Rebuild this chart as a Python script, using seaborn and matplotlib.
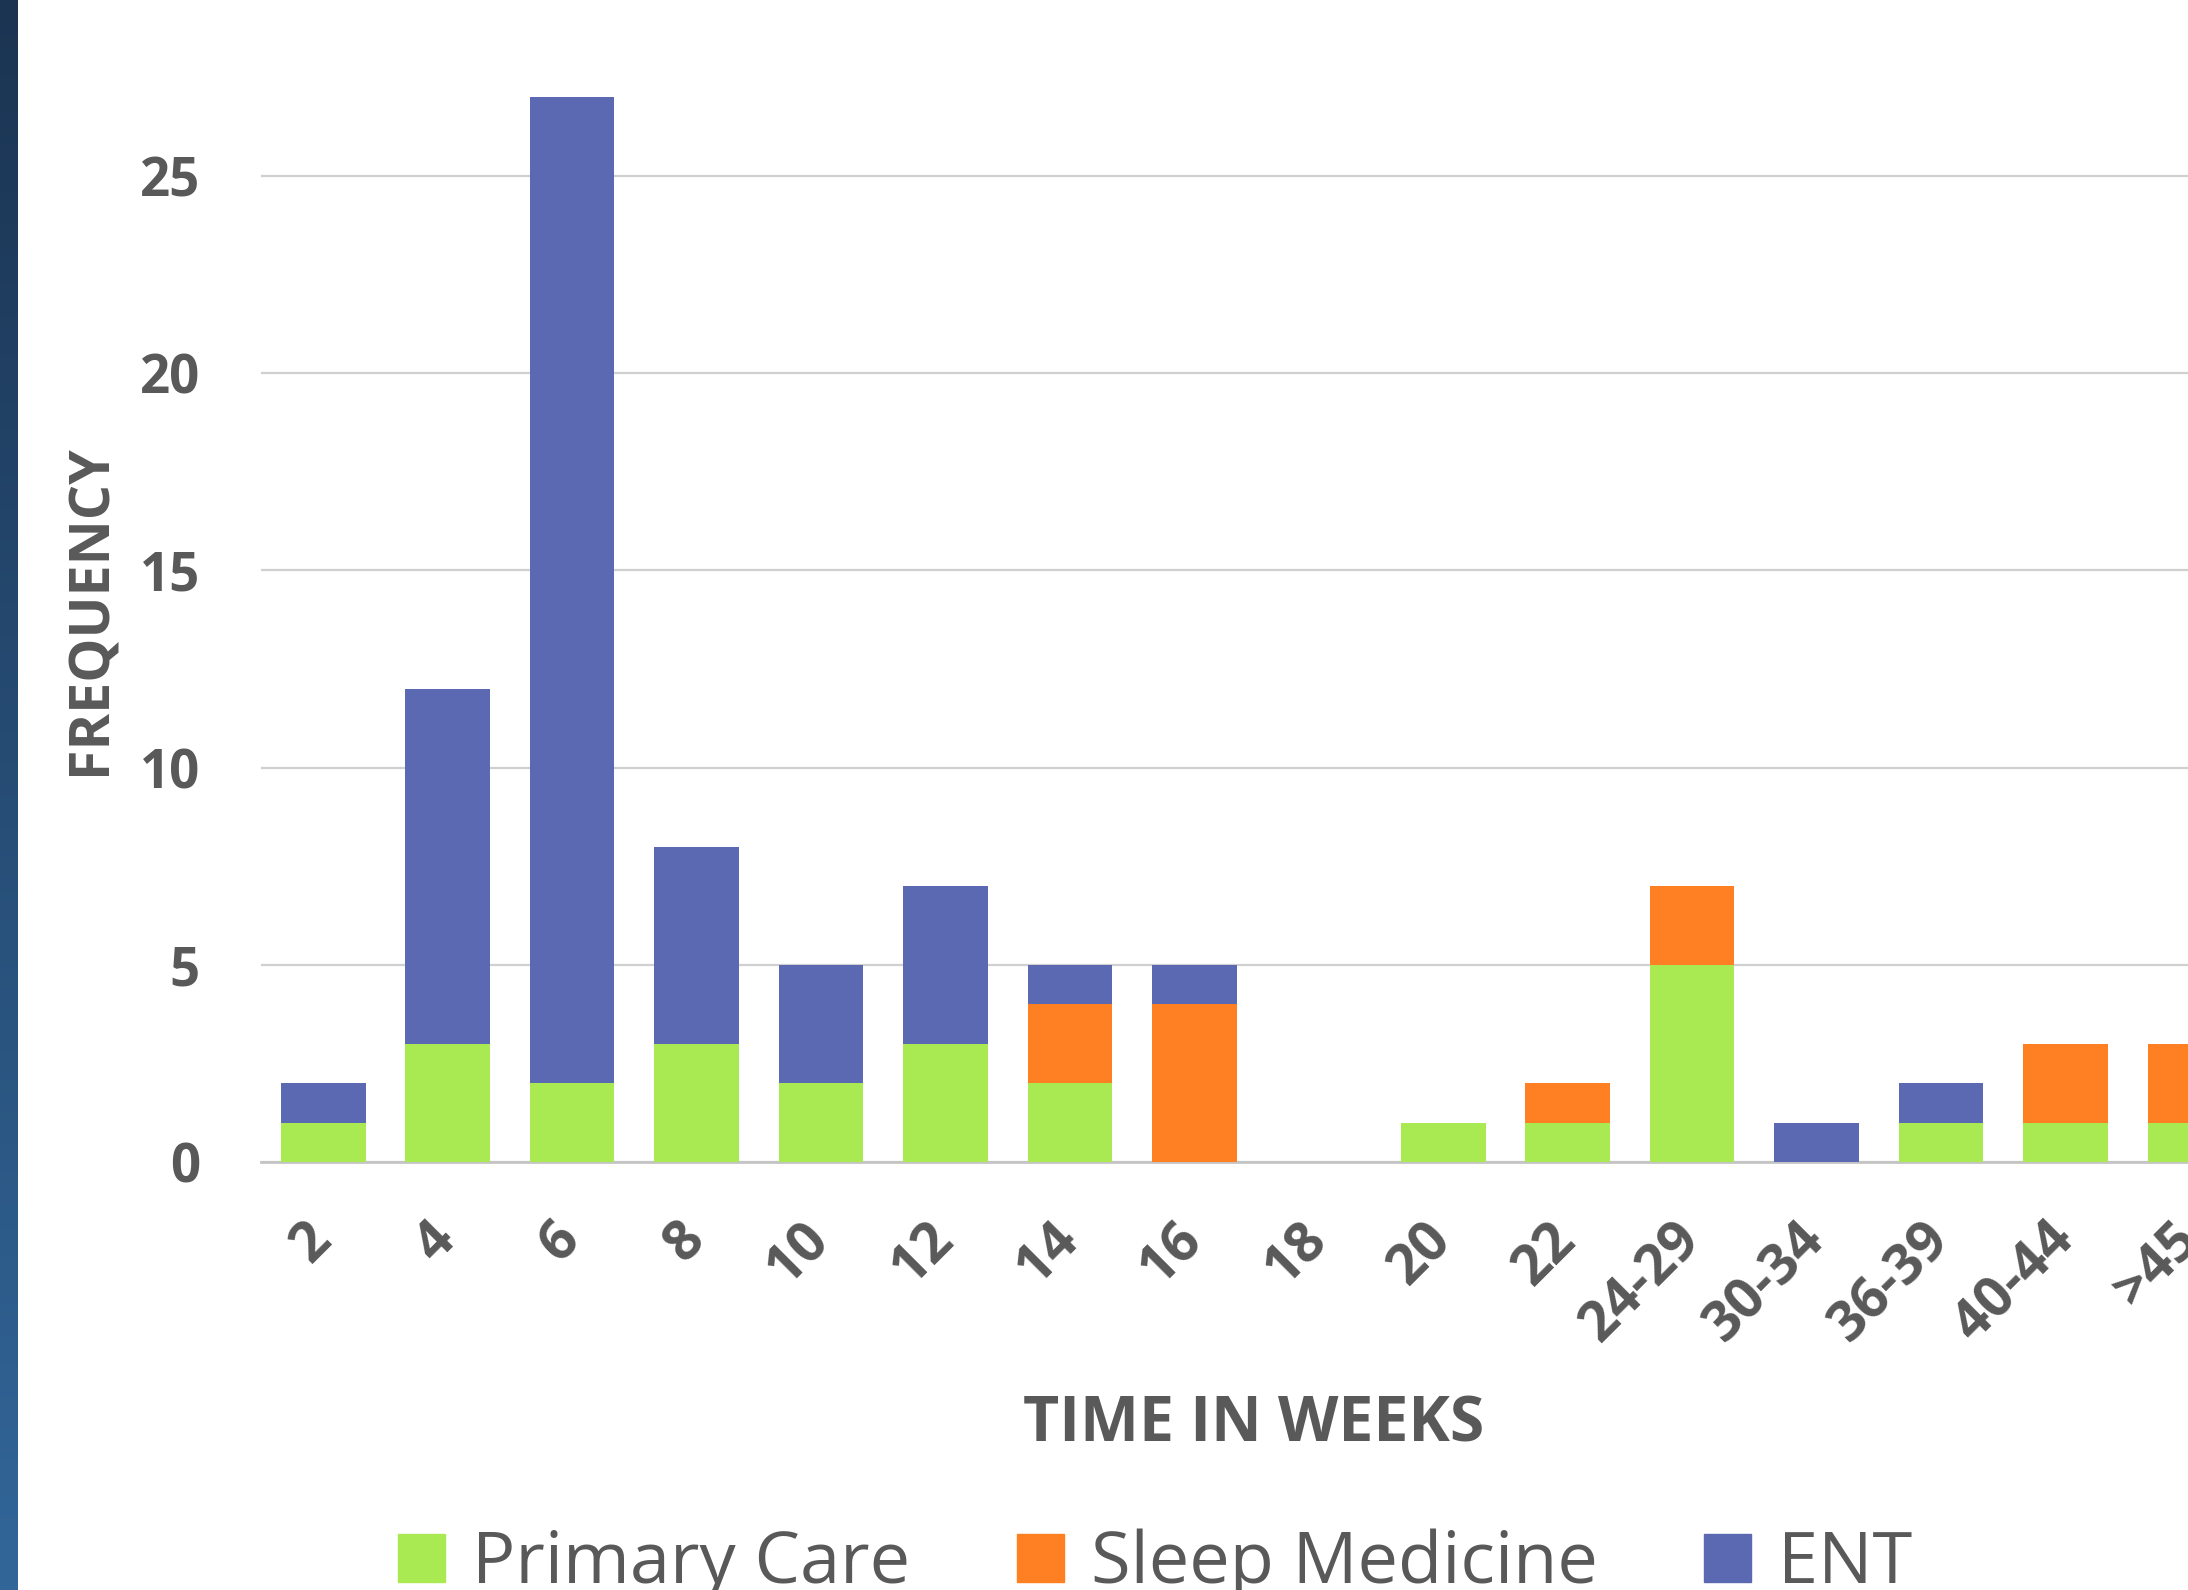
import numpy as np
import pandas as pd
import matplotlib
matplotlib.use("Agg")
import matplotlib.pyplot as plt
import seaborn as sns

# data
weeks = ["2", "4", "6", "8", "10", "12", "14", "16", "18", "20", "22",
         "24-29", "30-34", "36-39", "40-44", ">45"]
primary_care = [1, 3, 2, 3, 2, 3, 2, 0, 0, 1, 1, 5, 0, 1, 1, 1]
sleep_medicine = [0, 0, 0, 0, 0, 0, 2, 4, 0, 0, 1, 2, 0, 0, 2, 2]
ent = [1, 9, 25, 5, 3, 4, 1, 1, 0, 0, 0, 0, 1, 1, 0, 0]

green = "#A9EA52"
orange = "#FE8022"
blue = "#5A69B2"
text_gray = "#595959"

df = pd.DataFrame({"week": weeks, "pc": primary_care,
                   "sm": sleep_medicine, "ent": ent})
# cumulative heights for stacking (draw tallest first)
df["lvl_pc"] = df["pc"]
df["lvl_sm"] = df["pc"] + df["sm"]
df["lvl_ent"] = df["pc"] + df["sm"] + df["ent"]

sns.set_theme(style="white")
plt.rcParams["font.family"] = ["Open Sans", "DejaVu Sans"]

fig = plt.figure(figsize=(21.88, 15.9), dpi=100)
ax = fig.add_axes([0.1193, 0.2692, 0.910, 0.744])

for col, color in [("lvl_ent", blue), ("lvl_sm", orange), ("lvl_pc", green)]:
    sns.barplot(data=df, x="week", y=col, color=color, width=0.68,
                saturation=1, ax=ax, zorder=3, linewidth=0)

ax.set_xlim(-0.5, len(weeks) - 0.5)
ax.set_ylim(0, 30)
ax.set_yticks([0, 5, 10, 15, 20, 25])
ax.yaxis.grid(True, color="#d0d0d0", linewidth=1.6, zorder=0)
for s in ["top", "right", "left"]:
    ax.spines[s].set_visible(False)
ax.spines["bottom"].set_color("#c4c4c4")
ax.spines["bottom"].set_linewidth(2)
ax.tick_params(axis="both", length=0)
ax.tick_params(axis="y", pad=44, labelsize=38, labelcolor=text_gray)
ax.tick_params(axis="x", pad=50, labelsize=40, labelcolor=text_gray)
for lab in ax.get_yticklabels():
    lab.set_fontweight("bold")
for lab in ax.get_xticklabels():
    lab.set_fontweight("bold")
    lab.set_rotation(45)
    lab.set_ha("right")
    lab.set_va("center")
    lab.set_rotation_mode("anchor")

ax.set_ylabel("FREQUENCY", fontsize=40, fontweight="bold", color=text_gray)
ax.yaxis.set_label_coords(-0.0715, 0.4666)
ax.set_xlabel("TIME IN WEEKS", fontsize=45, fontweight="bold", color=text_gray)
ax.xaxis.set_label_coords(0.4987, -0.196)

# legend
handles = [plt.Rectangle((0, 0), 1, 1, color=c) for c in (green, orange, blue)]
fig.legend(handles, ["Primary Care", "Sleep Medicine", "ENT"], ncol=3,
           loc="center", bbox_to_anchor=(0.528, 0.016), frameon=False,
           fontsize=52, labelcolor=text_gray, handlelength=0.65,
           handleheight=0.65, handletextpad=0.37, columnspacing=1.48)

# dark blue gradient strip on the left edge
strip = fig.add_axes([0, 0, 18 / 2188, 1])
grad = np.linspace(0, 1, 256).reshape(-1, 1)
cmap = matplotlib.colors.LinearSegmentedColormap.from_list("strip", ["#1b3452", "#326699"])
strip.imshow(grad, aspect="auto", cmap=cmap)
strip.axis("off")

fig.savefig("out.png", dpi=100)
